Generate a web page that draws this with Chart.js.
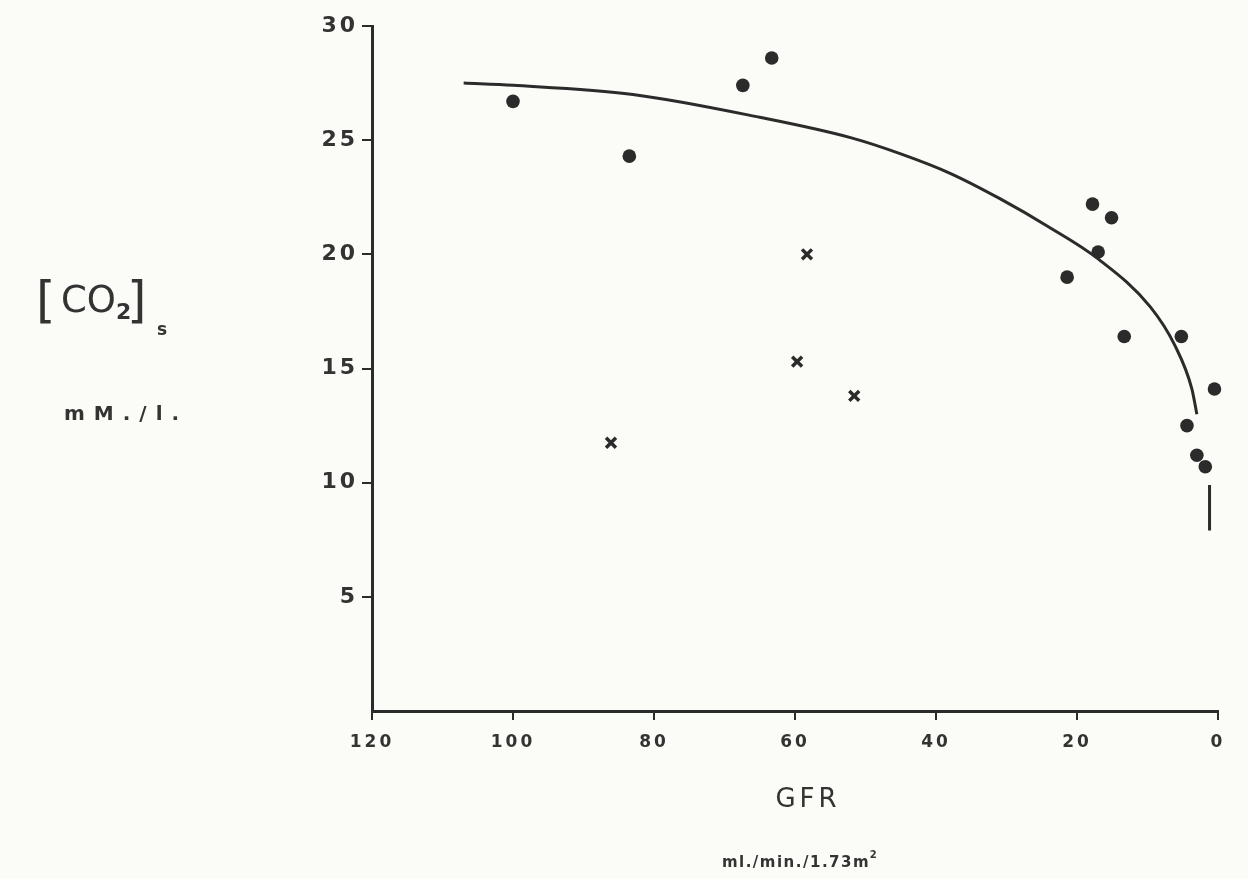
<!DOCTYPE html>
<html>
<head>
<meta charset="utf-8">
<script src="https://cdn.jsdelivr.net/npm/chart.js@4.4.0/dist/chart.umd.min.js"></script>
<style>
html,body{margin:0;padding:0;background:#fbfbf7;}
#wrap{width:1248px;height:879px;}
</style>
</head>
<body>
<div id="wrap"><canvas id="c" width="1248" height="879"></canvas></div>
<script>
// Filled circles (GFR, [CO2]s)
const dotsX = [100, 83.5, 67.4, 63.3, 17.8, 15.1, 17.0, 21.4, 13.3, 5.2, 0.5, 4.4, 3.0, 1.8];
const dotsY = [26.7, 24.3, 27.4, 28.6, 22.2, 21.6, 20.1, 19.0, 16.4, 16.4, 14.1, 12.5, 11.2, 10.7];
// Crosses
const crossX = [86.1, 58.3, 59.7, 51.6];
const crossY = [11.75, 20.0, 15.3, 13.8];
// Fitted curve
const curveX = [107, 100, 83, 65, 52, 45, 38, 31, 24, 17, 9.6, 6.1, 3.7, 3.0];
const curveY = [27.5, 27.4, 27.0, 26.0, 25.1, 24.4, 23.55, 22.45, 21.2, 19.8, 17.7, 16.0, 14.1, 13.0];
// Vertical range bar near GFR ~1
const barX = [1.2, 1.2];
const barY = [9.9, 7.9];
// Tick labels
const xTicks = [120, 100, 80, 60, 40, 20, 0];
const yTicks = [5, 10, 15, 20, 25, 30];

const toPts = (xs, ys) => xs.map((x, i) => ({x: x, y: ys[i]}));
const ink = '#2b2b2b';

const textPlugin = {
  id: 'texts',
  beforeDraw(chart) {
    chart.ctx.letterSpacing = '3px';
  },
  afterDraw(chart) {
    const ctx = chart.ctx;
    ctx.save();
    ctx.fillStyle = '#333';
    ctx.textAlign = 'center';
    ctx.textBaseline = 'middle';
    ctx.letterSpacing = '4px';
    ctx.font = '26px "DejaVu Sans"';
    ctx.fillText('GFR', 808, 800);
    ctx.letterSpacing = '1.5px';
    ctx.font = 'bold 15px "DejaVu Sans"';
    ctx.fillText('ml./min./1.73m', 796, 863);
    ctx.font = 'bold 10px "DejaVu Sans"';
    ctx.fillText('2', 874, 855);
    ctx.textAlign = 'left';
    ctx.textBaseline = 'alphabetic';
    ctx.letterSpacing = '0px';
    ctx.font = '50px "DejaVu Sans"';
    ctx.fillText('[', 36, 317);
    ctx.font = '37px "DejaVu Sans"';
    ctx.fillText('CO', 61, 312);
    ctx.font = 'bold 22px "DejaVu Sans"';
    ctx.fillText('2', 116, 319);
    ctx.font = '50px "DejaVu Sans"';
    ctx.fillText(']', 127, 317);
    ctx.font = 'bold 17px "DejaVu Sans"';
    ctx.fillText('s', 157, 335);
    ctx.letterSpacing = '9px';
    ctx.font = 'bold 20px "DejaVu Sans"';
    ctx.fillText('mM./l.', 64, 420);
    ctx.restore();
  }
};

new Chart(document.getElementById('c'), {
  type: 'scatter',
  data: {
    datasets: [
      {
        label: 'curve', type: 'line', data: toPts(curveX, curveY),
        borderColor: ink, borderWidth: 3, pointRadius: 0,
        cubicInterpolationMode: 'monotone', fill: false
      },
      {
        label: 'bar', type: 'line', data: toPts(barX, barY),
        borderColor: ink, borderWidth: 3, pointRadius: 0, fill: false
      },
      {
        label: 'dots', data: toPts(dotsX, dotsY), clip: false,
        pointStyle: 'circle', pointRadius: 6.8, backgroundColor: ink, borderColor: ink, borderWidth: 0
      },
      {
        label: 'crosses', data: toPts(crossX, crossY), clip: false,
        pointStyle: 'crossRot', pointRadius: 7, borderColor: ink, borderWidth: 3.5
      }
    ]
  },
  options: {
    responsive: false,
    animation: false,
    events: [],
    layout: {padding: {top: 26, right: 30, left: 0, bottom: 0}},
    plugins: {legend: {display: false}, tooltip: {enabled: false}},
    scales: {
      x: {
        type: 'linear', reverse: true, min: 0, max: 120,
        afterFit: s => { s.height = 168; },
        afterBuildTicks: s => { s.ticks = xTicks.map(v => ({value: v})); },
        border: {display: true, color: ink, width: 3},
        grid: {drawOnChartArea: false, color: ink, tickLength: 9, lineWidth: 2},
        ticks: {color: '#333', padding: 12, font: {family: 'DejaVu Sans', size: 17, weight: 'bold'}, maxRotation: 0}
      },
      y: {
        type: 'linear', min: 0, max: 30,
        afterFit: s => { s.width = 372; },
        afterBuildTicks: s => { s.ticks = yTicks.map(v => ({value: v})); },
        border: {display: true, color: ink, width: 3},
        grid: {drawOnChartArea: false, color: ink, tickLength: 10, lineWidth: 2},
        ticks: {color: '#333', padding: 4, font: {family: 'DejaVu Sans', size: 22, weight: 'bold'}}
      }
    }
  },
  plugins: [textPlugin]
});
</script>
</body>
</html>
